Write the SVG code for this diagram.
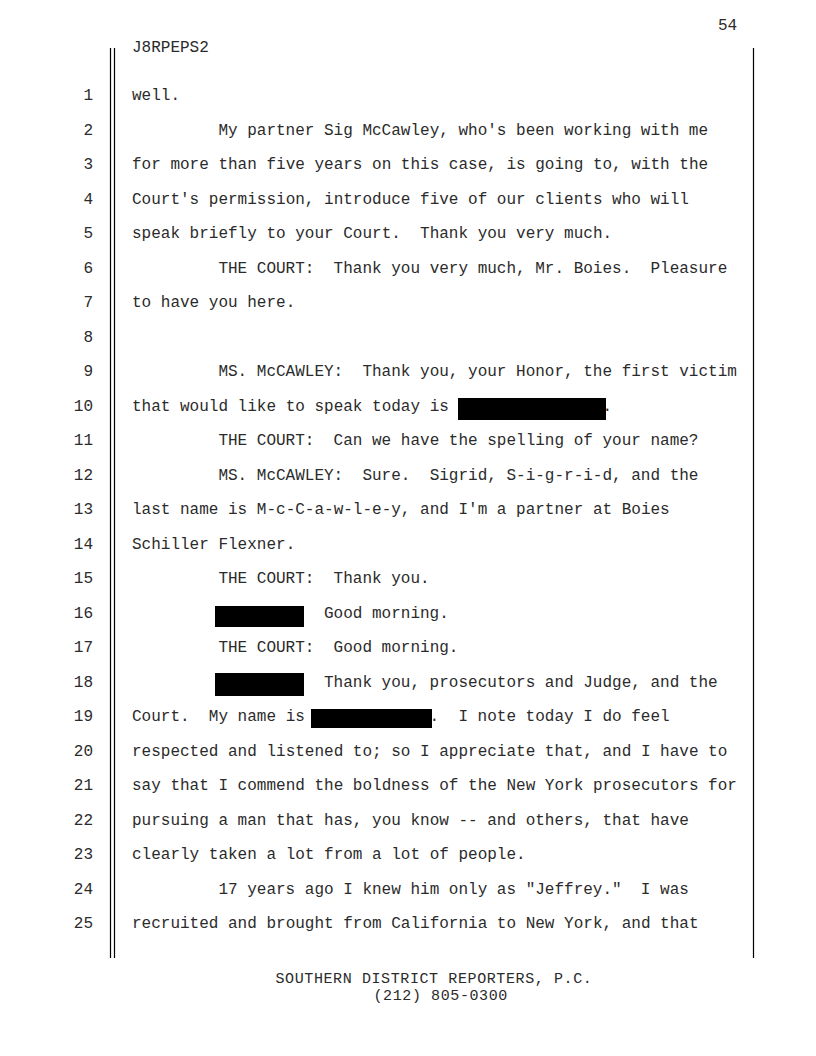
<svg xmlns="http://www.w3.org/2000/svg" width="816" height="1056" viewBox="0 0 816 1056">
<style>
text{font-family:"Liberation Mono","Courier New",monospace;font-size:16px;fill:#2b2b2b;white-space:pre}
.n{text-anchor:end}
.foot{font-size:15px;letter-spacing:0.6px}
.rule{stroke:#000;stroke-width:1.2;fill:none}
.red{fill:#000}
</style>
<rect width="816" height="1056" fill="#fff"/>
<g id="frame">
<line class="rule" x1="110.5" y1="48" x2="110.5" y2="958"/>
<line class="rule" x1="114.5" y1="48" x2="114.5" y2="958"/>
<line class="rule" x1="753.5" y1="48" x2="753.5" y2="958"/>
</g>
<g id="header">
<text x="718" y="30">54</text>
<text x="132" y="52">J8RPEPS2</text>
</g>
<g id="line-numbers">
<text class="n" x="93" y="100">1</text>
<text class="n" x="93" y="134.5">2</text>
<text class="n" x="93" y="169">3</text>
<text class="n" x="93" y="203.5">4</text>
<text class="n" x="93" y="238">5</text>
<text class="n" x="93" y="272.5">6</text>
<text class="n" x="93" y="307">7</text>
<text class="n" x="93" y="341.5">8</text>
<text class="n" x="93" y="376">9</text>
<text class="n" x="93" y="410.5">10</text>
<text class="n" x="93" y="445">11</text>
<text class="n" x="93" y="479.5">12</text>
<text class="n" x="93" y="514">13</text>
<text class="n" x="93" y="548.5">14</text>
<text class="n" x="93" y="583">15</text>
<text class="n" x="93" y="617.5">16</text>
<text class="n" x="93" y="652">17</text>
<text class="n" x="93" y="686.5">18</text>
<text class="n" x="93" y="721">19</text>
<text class="n" x="93" y="755.5">20</text>
<text class="n" x="93" y="790">21</text>
<text class="n" x="93" y="824.5">22</text>
<text class="n" x="93" y="859">23</text>
<text class="n" x="93" y="893.5">24</text>
<text class="n" x="93" y="928">25</text>
</g>
<g id="body" xml:space="preserve">
<text x="132" y="100">well.</text>
<text x="218.4" y="134.5">My partner Sig McCawley, who's been working with me</text>
<text x="132" y="169">for more than five years on this case, is going to, with the</text>
<text x="132" y="203.5">Court's permission, introduce five of our clients who will</text>
<text x="132" y="238">speak briefly to your Court.  Thank you very much.</text>
<text x="218.4" y="272.5">THE COURT:  Thank you very much, Mr. Boies.  Pleasure</text>
<text x="132" y="307">to have you here.</text>
<text x="218.4" y="376">MS. McCAWLEY:  Thank you, your Honor, the first victim</text>
<text x="132" y="410.5">that would like to speak today is</text>
<text x="602.4" y="410.5">.</text>
<text x="218.4" y="445">THE COURT:  Can we have the spelling of your name?</text>
<text x="218.4" y="479.5">MS. McCAWLEY:  Sure.  Sigrid, S-i-g-r-i-d, and the</text>
<text x="132" y="514">last name is M-c-C-a-w-l-e-y, and I'm a partner at Boies</text>
<text x="132" y="548.5">Schiller Flexner.</text>
<text x="218.4" y="583">THE COURT:  Thank you.</text>
<text x="324" y="617.5">Good morning.</text>
<text x="218.4" y="652">THE COURT:  Good morning.</text>
<text x="324" y="686.5">Thank you, prosecutors and Judge, and the</text>
<text x="132" y="721">Court.  My name is</text>
<text x="429.6" y="721">.  I note today I do feel</text>
<text x="132" y="755.5">respected and listened to; so I appreciate that, and I have to</text>
<text x="132" y="790">say that I commend the boldness of the New York prosecutors for</text>
<text x="132" y="824.5">pursuing a man that has, you know -- and others, that have</text>
<text x="132" y="859">clearly taken a lot from a lot of people.</text>
<text x="218.4" y="893.5">17 years ago I knew him only as "Jeffrey."  I was</text>
<text x="132" y="928">recruited and brought from California to New York, and that</text>
</g>
<g id="redactions">
<rect class="red" x="458" y="398" width="148" height="22"/>
<rect class="red" x="215" y="606" width="89" height="21"/>
<rect class="red" x="215" y="673" width="89" height="23"/>
<rect class="red" x="311" y="709" width="121" height="19"/>
</g>
<g id="footer" xml:space="preserve">
<text class="foot" x="275.5" y="983">SOUTHERN DISTRICT REPORTERS, P.C.</text>
<text class="foot" x="373.5" y="1000">(212) 805-0300</text>
</g>
</svg>
